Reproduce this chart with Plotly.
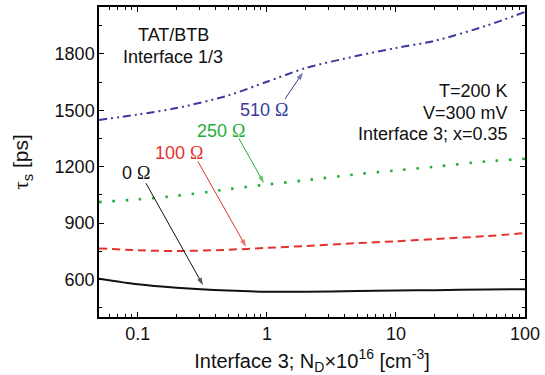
import numpy as np
import plotly.graph_objects as go

# Donor concentration at interface 3 (x 1e16 cm^-3)
nd = [0.05, 0.1, 0.2, 0.5, 1, 2, 5, 10, 20, 50, 100]

# Switching time tau_s [ps] for each series resistance
tau_0ohm = [604, 574, 556, 541, 535, 535, 538, 541, 543, 546, 548]
tau_100ohm = [765, 755, 751, 758, 768, 778, 793, 803, 815, 830, 847]
tau_250ohm = [1012, 1026, 1045, 1080, 1105, 1128, 1160, 1180, 1200, 1228, 1242]
tau_510ohm = [1449, 1478, 1512, 1579, 1652, 1725, 1790, 1832, 1870, 1950, 2024]

x_tickvals = [0.1, 1, 10, 100]
x_ticktext = ["0.1", "1", "10", "100"]
y_tickvals = [600, 900, 1200, 1500, 1800]

SANS = "Liberation Sans, Arial, sans-serif"
SERIF = "Liberation Serif"

BLACK = "#111111"
RED = "#e3332d"
GREEN = "#1fae3a"
BLUE = "#3b3a9c"

fig = go.Figure()

series = [
    (tau_0ohm, BLACK, "solid", 2.0),
    (tau_100ohm, RED, "8px,5px", 2.0),
    (tau_250ohm, GREEN, "2.5px,10.8px", 2.6),
    (tau_510ohm, BLUE, "8px,4px,2px,4px,2px,4px", 2.0),
]
for ys, col, dash, w in series:
    fig.add_trace(go.Scatter(
        x=nd, y=ys, mode="lines",
        line=dict(color=col, dash=dash, width=w, shape="spline", smoothing=0.8),
        showlegend=False, hoverinfo="skip",
    ))

def omega(label):
    return f"{label} <span style='font-family:{SERIF}'>Ω</span>"

# Series labels with leader arrows: (text, colour, label pos, arrow tail, arrow tip)
labels = [
    ("0", BLACK, (0.097, 1164), (0.1156, 1112), (0.32, 569)),
    ("100", RED, (0.208, 1275), (0.292, 1228), (0.689, 774)),
    ("250", GREEN, (0.44, 1391), (0.608, 1349), (0.95, 1112)),
    ("510", BLUE, (0.95, 1502), (1.38, 1560), (1.905, 1702)),
]
for txt, col, (lx, ly), (tx, ty), (hx, hy) in labels:
    fig.add_annotation(
        x=np.log10(lx), y=ly, xref="x", yref="y", text=omega(txt),
        showarrow=False, font=dict(family=SANS, size=18, color=col),
    )
    # leader line with an arrowhead marker at its tip
    fig.add_trace(go.Scatter(
        x=[tx, hx], y=[ty, hy], mode="lines+markers",
        line=dict(color=col, width=1),
        marker=dict(symbol="arrow", size=[0, 8], angleref="previous",
                    color=col, line=dict(width=0)),
        showlegend=False, hoverinfo="skip",
    ))

# Text blocks inside the plot area
for txt, xp, yp, anchor in [
    ("TAT/BTB", 0.176, 0.91, "center"),
    ("Interface 1/3", 0.174, 0.84, "center"),
    ("T=200 K", 0.965, 0.728, "right"),
    ("V=300 mV", 0.965, 0.658, "right"),
    ("Interface 3; x=0.35", 0.965, 0.591, "right"),
]:
    fig.add_annotation(
        x=xp, y=yp, xref="paper", yref="paper", text=txt, showarrow=False,
        xanchor=anchor, yanchor="middle",
        font=dict(family=SANS, size=18, color="#111111"),
    )

minor_x = [m * 10.0 ** e for e in range(-2, 2) for m in range(2, 10)]
minor_x = [v for v in minor_x if 0.05 <= v <= 100]

fig.update_xaxes(
    type="log", range=[np.log10(0.05), 2],
    tickmode="array", tickvals=x_tickvals, ticktext=x_ticktext,
    ticks="inside", ticklen=5, tickwidth=1, tickcolor="black",
    minor=dict(tickmode="array", tickvals=minor_x, ticks="inside", ticklen=3,
               tickwidth=1, tickcolor="black"),
    showline=True, linecolor="black", linewidth=1.5, mirror="ticks",
    showgrid=False, zeroline=False,
    tickfont=dict(family=SANS, size=18, color="#111111"),
    ticklabelstandoff=0,
    title=dict(
        text="Interface 3; N<sub>D</sub>×10<sup>16</sup> [cm<sup>-3</sup>]",
        font=dict(family=SANS, size=20, color="#111111"), standoff=12,
    ),
)
fig.update_yaxes(
    range=[400, 2050],
    tickmode="array", tickvals=y_tickvals,
    ticks="inside", ticklen=5, tickwidth=1, tickcolor="black",
    minor=dict(tickmode="linear", tick0=0, dtick=150, ticks="inside", ticklen=3,
               tickwidth=1, tickcolor="black"),
    showline=True, linecolor="black", linewidth=1.5, mirror="ticks",
    showgrid=False, zeroline=False,
    tickfont=dict(family=SANS, size=18, color="#111111"),
    ticklabelstandoff=-1,
    title=dict(
        text=f"<span style='font-family:{SERIF}'>τ</span><sub>s</sub> [ps]",
        font=dict(family=SANS, size=21, color="#111111"), standoff=20,
    ),
)

fig.update_layout(
    width=545, height=375,
    margin=dict(l=99, r=20, t=5, b=57),
    plot_bgcolor="white", paper_bgcolor="white",
)

fig.write_html("out.html")
